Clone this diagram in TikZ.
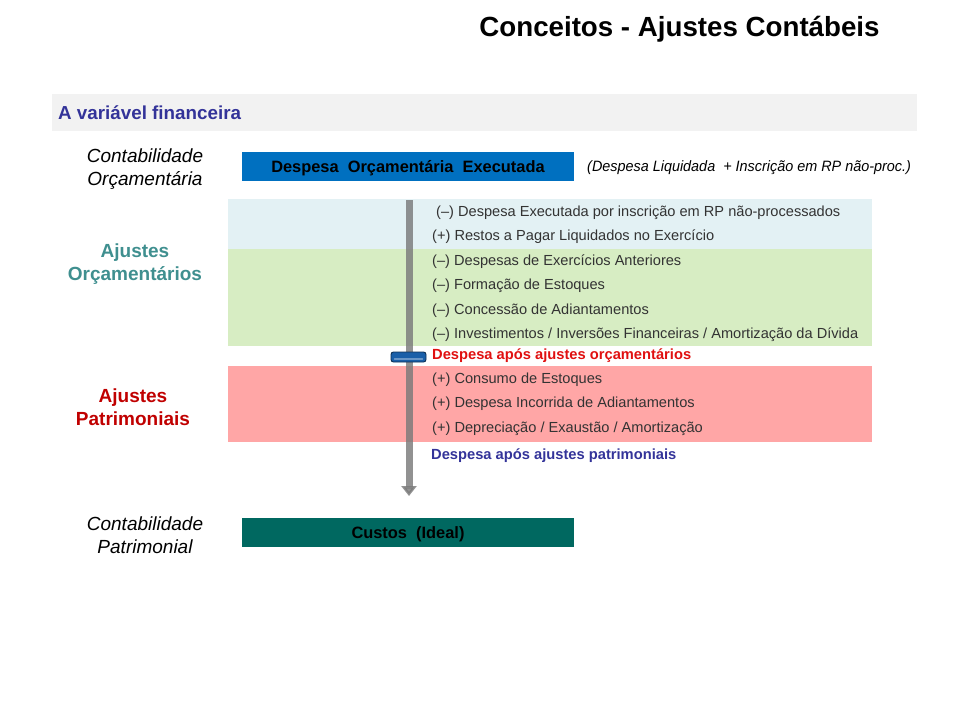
\documentclass[tikz,border=0pt]{standalone}
\usepackage{fontspec}
\setmainfont{Liberation Sans}
\usetikzlibrary{arrows.meta}
\definecolor{hdrgray}{HTML}{F2F2F2}
\definecolor{hdrblue}{HTML}{333399}
\definecolor{boxblue}{HTML}{0070C0}
\definecolor{boxteal}{HTML}{006860}
\definecolor{bandblue}{HTML}{E3F1F4}
\definecolor{bandgreen}{HTML}{D7EDC3}
\definecolor{bandred}{HTML}{FFA6A6}
\definecolor{lbteal}{HTML}{3F8F8F}
\definecolor{lbred}{HTML}{C00000}
\definecolor{txtred}{HTML}{E01010}
\definecolor{txtgray}{HTML}{333333}
\definecolor{slider}{HTML}{1A5FA8}
\definecolor{shaft}{HTML}{7A7A7A}
\tikzset{
  mainbox/.style={fill=#1, draw=none, minimum width=332pt, minimum height=29pt, inner sep=0pt,
     text depth=0pt, font=\fontsize{16.4}{18}\selectfont\bfseries},
  item/.style={anchor=west, inner sep=0pt, text=txtgray, font=\fontsize{14.6}{16}\selectfont},
  sideital/.style={align=center, inner sep=0pt, font=\fontsize{19}{23}\selectfont\itshape},
  sidebold/.style={align=center, inner sep=0pt, text=#1, font=\fontsize{19}{23}\selectfont\bfseries},
}
\begin{document}
\begin{tikzpicture}[x=1pt,y=-1pt]
\useasboundingbox (0,0) rectangle (960,720);
% title
\node[inner sep=0pt, font=\fontsize{27.7}{30}\selectfont\bfseries] (title) at (679.5,29.5) {Conceitos - Ajustes Contábeis};
% header band
\fill[hdrgray] (52,94) rectangle (917,131);
\node[anchor=west, inner sep=0pt, text=hdrblue, font=\fontsize{18.8}{20}\selectfont\bfseries] (hdr) at (58,113) {A variável financeira};
% bands
\fill[bandblue] (228,199) rectangle (872,249);
\fill[bandgreen] (228,249) rectangle (872,346);
\fill[bandred] (228,366) rectangle (872,442);
% gray shaft
\coordinate (atop) at (409,200);
\coordinate (abot) at (409,496);
\draw[line width=7pt, draw=shaft, opacity=0.82, -{Triangle[width=15pt,length=10pt]}] (atop) -- (abot);
% boxes
\node[mainbox=boxblue] (dexec) at (408,166.5) {Despesa\ \ Orçamentária\ \ Executada};
\node[anchor=west, inner sep=0pt, font=\fontsize{15}{16}\selectfont\itshape] (note) at (587,168)
  {\addfontfeature{FakeStretch=0.96}(Despesa Liquidada\ \ + Inscrição em RP não-proc.)};
\node[mainbox=boxteal] (custos) at (408,532.5) {Custos\ \ (Ideal)};
% side labels
\node[sideital] (corc) at (145,169) {Contabilidade\\Orçamentária};
\node[sidebold=lbteal] (ajorc) at (135,264.5) {Ajustes\\Orçamentários};
\node[sidebold=lbred] (ajpat) at (133,407.5) {Ajustes\\Patrimoniais};
\node[sideital] (cpat) at (145,535) {Contabilidade\\Patrimonial};
% items
\node[item] (i1) at (436,213) {(–) Despesa Executada por inscrição em RP não-processados};
\node[item] (i2) at (432,237) {(+) Restos a Pagar Liquidados no Exercício};
\node[item] (i3) at (432,262) {(–) Despesas de Exercícios Anteriores};
\node[item] (i4) at (432,286) {(–) Formação de Estoques};
\node[item] (i5) at (432,311) {(–) Concessão de Adiantamentos};
\node[item] (i6) at (432,335) {(–) Investimentos / Inversões Financeiras / Amortização da Dívida};
\node[item, text=txtred, font=\fontsize{14.7}{16}\selectfont\bfseries] (r1) at (432,356) {Despesa após ajustes orçamentários};
\node[item] (i7) at (432,380) {(+) Consumo de Estoques};
\node[item] (i8) at (432,404) {(+) Despesa Incorrida de Adiantamentos};
\node[item] (i9) at (432,429) {(+) Depreciação / Exaustão / Amortização};
\node[item, text=hdrblue, font=\fontsize{14.7}{16}\selectfont\bfseries] (r2) at (431,456) {Despesa após ajustes patrimoniais};
% slider
\node[draw=slider!50!black, line width=0.9pt, fill=slider, rounded corners=2.5pt, minimum width=35pt, minimum height=10pt, inner sep=0pt] (slid) at (408.5,357) {};
\draw[white, opacity=0.35, line width=1.5pt, line cap=round] ([xshift=4pt,yshift=-2pt]slid.west) -- ([xshift=-4pt,yshift=-2pt]slid.east);
\end{tikzpicture}
\end{document}
